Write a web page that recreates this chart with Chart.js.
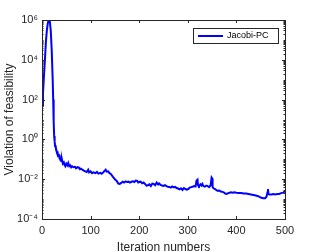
<!DOCTYPE html>
<html>
<head>
<meta charset="utf-8">
<script src="https://cdn.jsdelivr.net/npm/chart.js@4/dist/chart.umd.min.js"></script>
<style>
  html, body { margin: 0; padding: 0; background: #fff; }
  #wrap { width: 315px; height: 252px; }
</style>
</head>
<body>
<div id="wrap"><canvas id="chart" width="315" height="252"></canvas></div>
<script>
// Iteration numbers and violation of feasibility
const iterations = [1, 2, 4, 6, 8, 10, 12, 14, 16, 18, 20, 22, 23, 24, 25, 26, 27, 28, 29, 30,
    31, 32, 33, 35, 36, 37, 38, 40, 41, 43, 45, 47, 48, 50, 52, 54, 56, 58, 60, 62,
    65, 68, 70, 73, 76, 78, 80, 83, 86, 89, 92, 95, 97, 100, 103, 106, 110, 113, 116, 120,
    123, 126, 129, 131, 133, 136, 139, 142, 146, 150, 154, 157, 160, 163, 166, 169, 172, 175, 178, 181,
    184, 187, 190, 193, 196, 198, 200, 203, 206, 209, 212, 215, 218, 221, 224, 227, 230, 233, 236, 239,
    241, 244, 247, 250, 253, 256, 259, 262, 265, 268, 271, 274, 277, 280, 283, 286, 289, 292, 295, 298,
    301, 304, 307, 310, 313, 316, 318, 320, 321, 323, 326, 328, 330, 332, 335, 338, 341, 344, 347, 349,
    350, 351, 353, 356, 359, 362, 365, 368, 371, 374, 377, 380, 383, 386, 389, 392, 396, 400, 405, 410,
    415, 420, 425, 430, 435, 440, 445, 450, 455, 459, 462, 464, 465, 466, 468, 472, 476, 480, 484, 488,
    492, 496, 500];
const violation = [50, 200, 1500, 1e4, 8e4, 3e5, 7e5, 1e6, 9e5, 3e5, 3e4, 1e3, 100, 8, 1.5, 0.8, 0.45, 0.5, 0.3, 0.25,
    0.2, 0.25, 0.15, 0.16, 0.1, 0.13, 0.09, 0.08, 0.1, 0.06, 0.07, 0.05, 0.045, 0.06, 0.05, 0.065, 0.045, 0.05, 0.04, 0.045,
    0.04, 0.042, 0.035, 0.04, 0.038, 0.032, 0.034, 0.03, 0.027, 0.025, 0.023, 0.03, 0.022, 0.025, 0.02, 0.022, 0.02, 0.023, 0.019, 0.021,
    0.019, 0.022, 0.027, 0.03, 0.024, 0.025, 0.02, 0.018, 0.013, 0.01, 0.008, 0.006, 0.0058, 0.0065, 0.0075, 0.0068, 0.0078, 0.0072, 0.0075, 0.0068,
    0.0074, 0.0078, 0.0072, 0.0085, 0.0082, 0.0068, 0.0072, 0.0075, 0.0062, 0.0068, 0.0058, 0.0048, 0.005, 0.0055, 0.0045, 0.006, 0.0058, 0.005, 0.0068, 0.0055,
    0.0062, 0.0052, 0.0048, 0.0046, 0.005, 0.0045, 0.0042, 0.0041, 0.0038, 0.0043, 0.0039, 0.0041, 0.0036, 0.0034, 0.0031, 0.0035, 0.0029, 0.0036, 0.0032, 0.003,
    0.0032, 0.0038, 0.004, 0.0042, 0.0045, 0.0043, 0.0085, 0.0095, 0.005, 0.0045, 0.0055, 0.0048, 0.0058, 0.0045, 0.0042, 0.0048, 0.0045, 0.004, 0.005, 0.012,
    0.011, 0.004, 0.0035, 0.0032, 0.0028, 0.0026, 0.0027, 0.0024, 0.0023, 0.0022, 0.0019, 0.0018, 0.002, 0.0021, 0.0022, 0.0021, 0.0022, 0.0021, 0.002, 0.002,
    0.0019, 0.0019, 0.0018, 0.0017, 0.0016, 0.0015, 0.0014, 0.0012, 0.0011, 0.0011, 0.0013, 0.0022, 0.0032, 0.0018, 0.0017, 0.0017, 0.0018, 0.0017, 0.0018, 0.0018,
    0.002, 0.0021, 0.0025];

const xTicks = [0, 100, 200, 300, 400, 500];
const yTicks = [1e-4, 1e-2, 1e0, 1e2, 1e4, 1e6];
const yTickLabels = ['10\u207B\u2074', '10\u207B\u00B2', '10\u2070', '10\u00B2', '10\u2074', '10\u2076'];
const seriesName = 'Jacobi-PC';

const axisColor = '#262626';
const lineColor = '#0000ff';
const fontFamily = 'Liberation Sans, Arial, sans-serif';

// box, inward ticks (major + minor) and the legend, MATLAB style
const matlabAxes = {
    id: 'matlabAxes',
    afterDraw(chart) {
        const ctx = chart.ctx;
        const a = chart.chartArea;
        const xs = chart.scales.x;
        const ys = chart.scales.y;
        ctx.save();
        ctx.strokeStyle = axisColor;
        ctx.lineWidth = 1;
        ctx.strokeRect(a.left + 0.5, a.top + 0.5, a.right - a.left, a.bottom - a.top);

        ctx.beginPath();
        xTicks.forEach(v => {
            const px = Math.round(xs.getPixelForValue(v)) + 0.5;
            ctx.moveTo(px, a.bottom); ctx.lineTo(px, a.bottom - 3);
            ctx.moveTo(px, a.top); ctx.lineTo(px, a.top + 3);
        });
        for (let e = -4; e <= 6; e++) {
            for (let m = 1; m <= 9; m++) {
                const v = m * Math.pow(10, e);
                if (v > 1e6) break;
                const py = Math.round(ys.getPixelForValue(v)) + 0.5;
                const len = (m === 1 && e % 2 === 0) ? 3 : 1.5;
                ctx.moveTo(a.left, py); ctx.lineTo(a.left + len, py);
                ctx.moveTo(a.right, py); ctx.lineTo(a.right - len, py);
            }
        }
        ctx.stroke();

        // legend
        const lx = 193, ly = 28, lw = 85, lh = 15;
        ctx.fillStyle = '#fff';
        ctx.fillRect(lx, ly, lw, lh);
        ctx.strokeStyle = axisColor;
        ctx.strokeRect(lx + 0.5, ly + 0.5, lw, lh);
        ctx.strokeStyle = lineColor;
        ctx.lineWidth = 2;
        ctx.beginPath();
        ctx.moveTo(lx + 5, ly + 8); ctx.lineTo(lx + 30, ly + 8);
        ctx.stroke();
        ctx.fillStyle = '#000';
        ctx.font = '9px ' + fontFamily;
        ctx.textBaseline = 'middle';
        ctx.fillText(seriesName, lx + 34, ly + 8);
        ctx.restore();
    }
};

new Chart(document.getElementById('chart'), {
    type: 'line',
    data: {
        datasets: [{
            label: seriesName,
            data: iterations.map((it, i) => ({ x: it, y: violation[i] })),
            borderColor: lineColor,
            borderWidth: 2,
            pointRadius: 0,
            tension: 0,
            fill: false
        }]
    },
    options: {
        responsive: false,
        animation: false,
        layout: { padding: { top: 20, right: 30, left: 0, bottom: 0 } },
        plugins: { legend: { display: false }, tooltip: { enabled: false } },
        scales: {
            x: {
                type: 'linear',
                min: 0,
                max: 500,
                afterFit: s => { s.height = 33; },
                afterBuildTicks: s => { s.ticks = xTicks.map(v => ({ value: v })); },
                grid: { display: false, drawTicks: false },
                border: { display: false },
                ticks: { color: axisColor, font: { size: 11, family: fontFamily }, padding: 5, maxRotation: 0 },
                title: { display: true, text: 'Iteration numbers', color: axisColor, font: { size: 12, family: fontFamily, lineHeight: 0.8 }, padding: 0 }
            },
            y: {
                type: 'logarithmic',
                min: 1e-4,
                max: 1e6,
                afterFit: s => { s.width = 42; },
                afterBuildTicks: s => { s.ticks = yTicks.map(v => ({ value: v })); },
                grid: { display: false, drawTicks: false },
                border: { display: false },
                ticks: {
                    color: axisColor,
                    font: { size: 11, family: fontFamily },
                    padding: 4,
                    callback: v => {
                        const i = yTicks.findIndex(t => Math.abs(Math.log10(t) - Math.log10(v)) < 1e-6);
                        return i >= 0 ? yTickLabels[i] : '';
                    }
                },
                title: { display: true, text: 'Violation of feasibility', color: axisColor, font: { size: 12, family: fontFamily }, padding: { top: 2, bottom: 0 } }
            }
        }
    },
    plugins: [matlabAxes]
});
</script>
</body>
</html>
